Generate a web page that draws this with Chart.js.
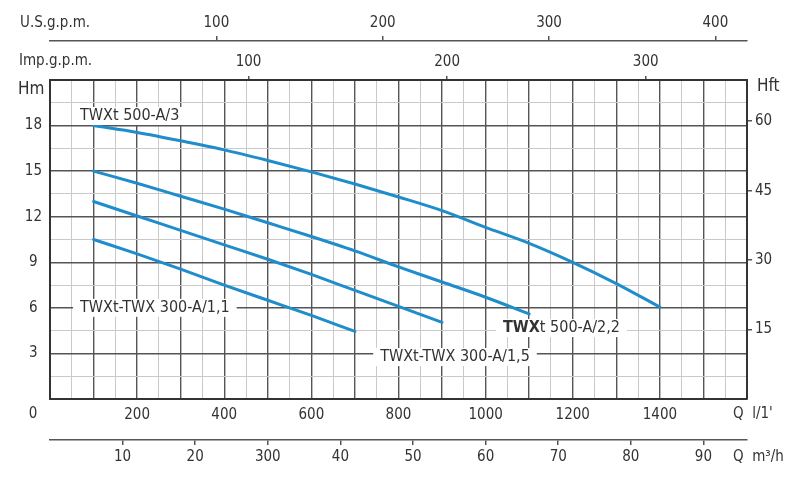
<!DOCTYPE html>
<html>
<head>
<meta charset="utf-8">
<script src="https://cdn.jsdelivr.net/npm/chart.js@4.4.1/dist/chart.umd.min.js"></script>
<style>
html,body{margin:0;padding:0;background:#fff}
#wrap{width:800px;height:491px;position:relative}
</style>
</head>
<body>
<div id="wrap"><canvas id="c"></canvas></div>
<script>
// ---- data (flow Q in l/min, head H in m) ----
const qA3  = [100,200,300,400,500,600,700,800,900,1000,1100,1200,1300,1400];
const hA3  = [18.0,17.55,17.0,16.4,15.7,14.95,14.15,13.3,12.4,11.3,10.25,9.0,7.6,6.05];
const qA22 = [100,200,300,400,500,600,700,800,900,1000,1100];
const hA22 = [15.0,14.2,13.35,12.5,11.6,10.7,9.75,8.7,7.7,6.7,5.6];
const qA15 = [100,200,300,400,500,600,700,800,900];
const hA15 = [13.0,12.05,11.1,10.15,9.2,8.2,7.15,6.1,5.05];
const qA11 = [100,200,300,400,500,600,700];
const hA11 = [10.5,9.55,8.55,7.5,6.5,5.5,4.45];
const curveNames = ['TWXt 500-A/3','TWXt 500-A/2,2','TWXt-TWX 300-A/1,5','TWXt-TWX 300-A/1,1'];

// ---- axes / tick labels ----
const flowTicksLmin = [200,400,600,800,1000,1200,1400];
const flowTicksM3h  = [10,20,30,40,50,60,70,80,90];
const flowLabelsM3h = ['10','20','300','40','50','60','70','80','90'];
const usgpmTicks  = [100,200,300,400];
const impgpmTicks = [100,200,300];
const hmTicks  = [3,6,9,12,15,18];
const hftTicks = [15,30,45,60];

const FONT = '"DejaVu Sans Condensed", "DejaVu Sans", sans-serif';
const TXT = '#333';
const DARK = '#555';
const LIGHT = '#c9c9c9';
const BLUE = '#1f8dcc';

function pts(q, h){ return q.map((v,i)=>({x:v, y:h[i]})); }
function ds(label, q, h){
  return {label, data: pts(q,h), showLine:true, borderColor:BLUE, borderWidth:3,
    pointRadius:0, fill:false, cubicInterpolationMode:'monotone', borderCapStyle:'round'};
}
const hidden0 = c => (c.tick && Math.abs(c.tick.value) < 1e-9) ? 'rgba(0,0,0,0)' : DARK;
const tickFont = {family: FONT, size: 15};

const textPlugin = {
  id:'texts',
  afterDatasetsDraw(chart){
    const ctx = chart.ctx, x = chart.scales.x, y = chart.scales.y;
    ctx.save();
    ctx.textBaseline = 'middle';
    ctx.fillStyle = TXT;
    // curve labels with white background (anchor: left Q, centre H)
    const anchors = [[69,18.63],[1040,4.67],[758,2.76],[69,6.0]];
    curveNames.forEach((name,i)=>{
      const px = x.getPixelForValue(anchors[i][0]);
      const py = y.getPixelForValue(anchors[i][1]);
      ctx.font = '16px ' + FONT;
      let w;
      if (i === 1) {
        ctx.font = 'bold 16px ' + FONT;
        const w1 = ctx.measureText('TWX').width;
        ctx.font = '16px ' + FONT;
        w = w1 + ctx.measureText(name.slice(3)).width;
      } else {
        w = ctx.measureText(name).width;
      }
      ctx.fillStyle = '#fff';
      ctx.fillRect(px-7, py-9, w+14, 18);
      ctx.fillStyle = TXT;
      if (i === 1) {
        ctx.font = 'bold 16px ' + FONT;
        ctx.fillText('TWX', px, py);
        const w1 = ctx.measureText('TWX').width;
        ctx.font = '16px ' + FONT;
        ctx.fillText(name.slice(3), px + w1, py);
      } else {
        ctx.fillText(name, px, py);
      }
    });
    // axis titles
    ctx.font = '15px ' + FONT;
    ctx.textAlign = 'left';
    ctx.fillText('U.S.g.p.m.', 20, 23);
    ctx.fillText('Imp.g.p.m.', 19, 61);
    ctx.fillText("Q  l/1'", 733, 414);
    ctx.fillText('Q  m\u00B3/h', 733, 457);
    ctx.textAlign = 'center';
    ctx.fillText('0', 33, 414);
    ctx.font = '17px ' + FONT;
    ctx.textAlign = 'left';
    ctx.fillText('Hm', 18, 90);
    ctx.fillText('Hft', 757, 87);
    ctx.restore();
  }
};

new Chart(document.getElementById('c'), {
  type: 'scatter',
  data: { datasets: [ ds(curveNames[0], qA3, hA3), ds(curveNames[1], qA22, hA22),
                      ds(curveNames[2], qA15, hA15), ds(curveNames[3], qA11, hA11) ] },
  options: {
    responsive: true, maintainAspectRatio: false, animation: false,
    layout: { padding: 0 },
    plugins: { legend: {display:false}, tooltip: {enabled:false} },
    scales: {
      x: { type:'linear', axis:'x', position:'bottom', weight:0, min:0, max:1600,
        ticks: { stepSize:50, autoSkip:false, maxRotation:0, padding:7, font:tickFont, color:TXT,
          callback: v => flowTicksLmin.includes(Math.round(v)) ? String(Math.round(v)) : '' },
        grid: { drawTicks:false,
          color: c => (c.tick && Math.round(c.tick.value) % 100 === 0) ? DARK : LIGHT,
          lineWidth: c => (c.tick && Math.round(c.tick.value) % 100 === 0) ? 1.4 : 1 },
        border: { color:'#333', width:2 },
        afterFit: s => { s.height = 41; } },
      xm3: { type:'linear', axis:'x', position:'bottom', weight:1, min:0, max:96,
        ticks: { stepSize:10, includeBounds:false, autoSkip:false, maxRotation:0, padding:3, font:tickFont, color:TXT,
          callback: v => { const i = flowTicksM3h.indexOf(Math.round(v)); return i >= 0 ? flowLabelsM3h[i] : ''; } },
        grid: { drawOnChartArea:false, drawTicks:true, tickLength:5, color:hidden0, lineWidth:1.5 },
        border: { color:DARK, width:1.5 },
        afterFit: s => { s.height = 51; } },
      ximp: { type:'linear', axis:'x', position:'top', weight:0, min:0, max:351,
        ticks: { stepSize:100, includeBounds:false, autoSkip:false, maxRotation:0, padding:5, font:tickFont, color:TXT,
          callback: v => impgpmTicks.includes(Math.round(v)) ? String(Math.round(v)) : '' },
        grid: { drawOnChartArea:false, drawTicks:true, tickLength:4, color:hidden0, lineWidth:1.5 },
        border: { color:'#333', width:2 },
        afterFit: s => { s.height = 39; } },
      xus: { type:'linear', axis:'x', position:'top', weight:1, min:0, max:419,
        ticks: { stepSize:100, includeBounds:false, autoSkip:false, maxRotation:0, padding:4, font:tickFont, color:TXT,
          callback: v => usgpmTicks.includes(Math.round(v)) ? String(Math.round(v)) : '' },
        grid: { drawOnChartArea:false, drawTicks:true, tickLength:5, color:hidden0, lineWidth:1.5 },
        border: { color:DARK, width:1.5 },
        afterFit: s => { s.height = 41; } },
      y: { type:'linear', axis:'y', position:'left', min:0, max:21,
        ticks: { stepSize:1.5, autoSkip:false, padding:8, crossAlign:'center', font:tickFont, color:TXT,
          callback: v => hmTicks.includes(Math.round(v*10)/10) ? String(Math.round(v)) : '' },
        grid: { drawTicks:false,
          color: c => (c.tick && Math.round(c.tick.value*10) % 30 === 0) ? DARK : LIGHT,
          lineWidth: c => (c.tick && Math.round(c.tick.value*10) % 30 === 0) ? 1.4 : 1 },
        border: { color:'#333', width:2 },
        afterFit: s => { s.width = 50; } },
      yft: { type:'linear', axis:'y', position:'right', min:0, max:68.9,
        ticks: { stepSize:15, includeBounds:false, autoSkip:false, padding:3, font:tickFont, color:TXT,
          callback: v => hftTicks.includes(Math.round(v)) ? String(Math.round(v)) : '' },
        grid: { drawOnChartArea:false, drawTicks:true, tickLength:5, color:hidden0, lineWidth:1.5 },
        border: { color:'#333', width:2 },
        afterFit: s => { s.width = 53; } }
    }
  },
  plugins: [textPlugin]
});
</script>
</body>
</html>
